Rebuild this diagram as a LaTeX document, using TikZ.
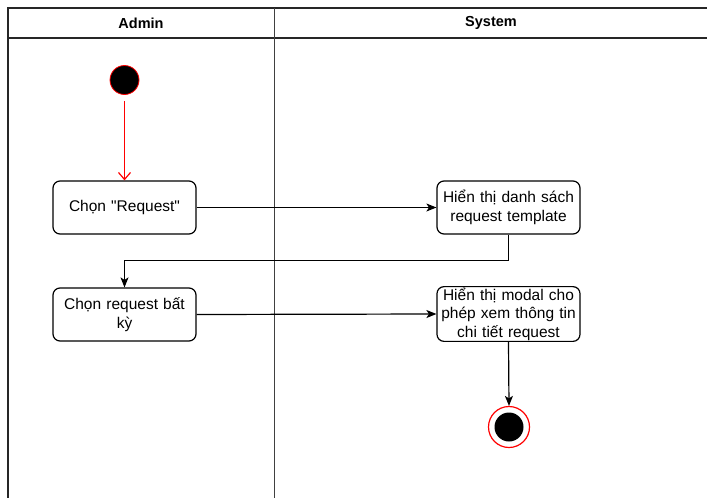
\documentclass[tikz,border=0pt]{standalone}
\usepackage{fontspec}
\setmainfont{Liberation Sans}[Ligatures=TeXOff]
\usetikzlibrary{arrows.meta}
\begin{document}
\begin{tikzpicture}[x=1pt,y=-1pt,
  act/.style={draw=black,line width=1.2pt,rounded corners=7pt,minimum width=143pt,minimum height=53pt,inner sep=1pt,align=center,font=\fontsize{15.5}{19.5}\selectfont,text width=141pt},
  flow/.style={draw=black,line width=1.2pt,-{Stealth[length=10pt,width=8pt,inset=2.5pt]}},
  hdr/.style={font=\bfseries\fontsize{14.5}{17}\selectfont}
]
\useasboundingbox (0,0) rectangle (707,498);
% pool
\draw[line width=1.3pt,black!85] (708,8) -- (8,8) -- (8,499);
\draw[line width=1.3pt,black!85] (8,38) -- (708,38);
\draw[line width=1.3pt,black!75] (274.5,8) -- (274.5,499);
\node[hdr] (hA) at (141,23) {Admin};
\node[hdr] (hS) at (491,23) {System};
% nodes
\node[circle,fill=black,draw=red,line width=0.8pt,minimum size=29pt,inner sep=0pt] (start) at (124.5,80) {};
\node[act] (a1) at (124.5,207.5) {Chọn "Request"};
\node[act] (a2) at (124.5,314.5) {Chọn request bất\\kỳ};
\node[act] (s1) at (508.5,207.5) {Hiển thị danh sách\\request template};
\node[act,font=\fontsize{15.5}{18.5}\selectfont] (s2) at (508.5,314) {Hiển thị modal cho\\phép xem thông tin\\chi tiết request};
\node[circle,draw=red,line width=1.2pt,fill=white,minimum size=41pt,inner sep=0pt] (end) at (509,427) {};
\node[circle,fill=black,minimum size=29pt,inner sep=0pt] (endin) at (end.center) {};
\coordinate (c1) at (508.5,260.5);
\coordinate (c2) at (124.5,260.5);
% connectors
\draw[red,line width=1.2pt,-{Straight Barb[length=7pt,width=12pt]}] (start.south) ++(0,6) -- (a1.north);
\draw[flow] (a1.east) -- (s1.west);
\draw[flow] (s1.south) -- (c1) -- (c2) -- (a2.north);
\draw[flow] (a2.east) -- (s2.west);
\draw[flow] (s2.south) -- (end.north);
\end{tikzpicture}
\end{document}
